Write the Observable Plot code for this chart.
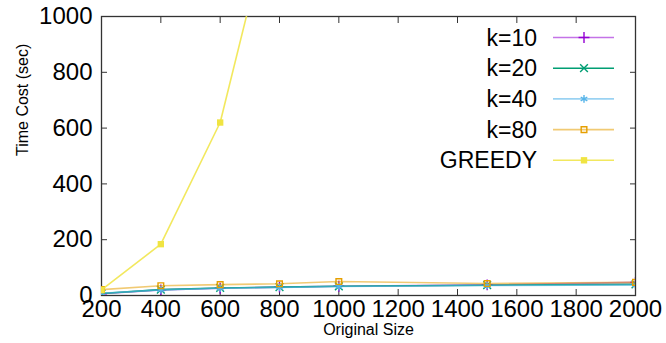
<!DOCTYPE html>
<html>
<head>
<meta charset="utf-8">
<script src="https://cdn.jsdelivr.net/npm/d3@7"></script>
<script src="https://cdn.jsdelivr.net/npm/@observablehq/plot@0.6"></script>
<style>
body { margin: 0; background: #fff; }
#chart { position: relative; width: 666px; height: 343px; }
</style>
</head>
<body>
<div id="chart"></div>
<script>
const sizes = [200, 400, 600, 800, 1000, 1500, 2000];
const k10 = [6, 20, 26, 30, 33, 38, 47];
const k20 = [7, 21, 27, 30, 33, 37, 40];
const k40 = [8, 20, 26, 29, 32, 36, 38];
const k80 = [21, 35, 39, 42, 50, 43, 47];
const greedySizes = [200, 400, 600, 800];
const greedy = [20, 184, 620, 1480];
const xTicks = [200, 400, 600, 800, 1000, 1200, 1400, 1600, 1800, 2000];
const yTicks = [0, 200, 400, 600, 800, 1000];
const seriesNames = ["k=10", "k=20", "k=40", "k=80", "GREEDY"];

const styles = {
  "k=10":   {color: "#9400d3", lineOpacity: 0.55, symbol: "plus",     fill: "none"},
  "k=20":   {color: "#009e73", lineOpacity: 1.0,  symbol: "times",    fill: "none"},
  "k=40":   {color: "#56b4e9", lineOpacity: 0.6,  symbol: "asterisk", fill: "none"},
  "k=80":   {color: "#e69f00", lineOpacity: 0.55, symbol: "square2",  fill: "none"},
  "GREEDY": {color: "#f0e442", lineOpacity: 0.85, symbol: "square",   fill: "fill"}
};

const rows = [];
const add = (name, xs, ys) => xs.forEach((x, i) => rows.push({series: name, x, y: ys[i]}));
add("k=10", sizes, k10);
add("k=20", sizes, k20);
add("k=40", sizes, k40);
add("k=80", sizes, k80);
add("GREEDY", greedySizes, greedy);

const font = "Liberation Sans, Arial, sans-serif";
const fmt = d => String(d);
const marks = [];
for (const name of seriesNames) {
  const s = styles[name];
  const d = rows.filter(r => r.series === name);
  marks.push(Plot.line(d, {x: "x", y: "y", stroke: s.color, strokeOpacity: s.lineOpacity, strokeWidth: 1.6, clip: true}));
  const dotOpts = {x: "x", y: "y", symbol: () => s.symbol, r: 3.6, clip: true};
  if (s.fill === "fill") { dotOpts.fill = s.color; dotOpts.stroke = "none"; }
  else { dotOpts.stroke = s.color; dotOpts.fill = "none"; dotOpts.strokeWidth = 1.4; }
  marks.push(Plot.dot(d, dotOpts));
}

const plot = Plot.plot({
  width: 666,
  height: 343,
  marginLeft: 101,
  marginRight: 31,
  marginTop: 16,
  marginBottom: 48,
  style: {fontFamily: font, background: "#fff", color: "#000"},
  x: {domain: [200, 2000], ticks: xTicks},
  y: {domain: [0, 1000], ticks: yTicks},
  symbol: {type: "identity"},
  marks: [
    Plot.frame({stroke: "#333", strokeWidth: 1.3}),
    Plot.axisX(xTicks, {anchor: "bottom", tickSize: -6, tickFormat: () => "", label: null, stroke: "#333"}),
    Plot.axisX(xTicks, {anchor: "top", tickSize: -6, tickFormat: () => "", label: null, stroke: "#333"}),
    Plot.axisY(yTicks, {anchor: "left", tickSize: -6, tickFormat: () => "", label: null, stroke: "#333"}),
    Plot.axisY(yTicks, {anchor: "right", tickSize: -6, tickFormat: () => "", label: null, stroke: "#333"}),
    Plot.axisX(xTicks, {anchor: "bottom", tickSize: 0, tickPadding: 4, fontSize: 24, tickFormat: fmt, label: null, fill: "#000"}),
    Plot.axisY(yTicks, {anchor: "left", tickSize: 0, tickPadding: 9, fontSize: 24, tickFormat: fmt, label: null, fill: "#000"}),
    Plot.text(["Original Size"], {frameAnchor: "bottom", dy: 39, fontSize: 16, fill: "#000"}),
    Plot.text(["Time Cost (sec)"], {frameAnchor: "left", rotate: -90, dx: -79, fontSize: 16, fill: "#000"}),
    ...marks
  ]
});

document.getElementById("chart").appendChild(plot);

// Legend (top-right inside the frame)
const svg = d3.select(plot);
const lg = svg.append("g").attr("font-family", font);
const symGen = {
  "plus": d3.symbolPlus, "times": d3.symbolTimes, "asterisk": d3.symbolAsterisk,
  "square2": d3.symbolSquare2, "square": d3.symbolSquare
};
seriesNames.forEach((name, i) => {
  const s = styles[name];
  const y = 37.5 + i * 30.7;
  lg.append("text").attr("x", 537).attr("y", y).attr("dy", "0.35em")
    .attr("text-anchor", "end").attr("font-size", 23).attr("fill", "#000").text(name);
  lg.append("line").attr("x1", 553).attr("x2", 614).attr("y1", y).attr("y2", y)
    .attr("stroke", s.color).attr("stroke-opacity", s.lineOpacity).attr("stroke-width", 1.6);
  const p = lg.append("path").attr("transform", `translate(584,${y})`)
    .attr("d", d3.symbol(symGen[s.symbol], Math.PI * 3.6 * 3.6)());
  if (s.fill === "fill") p.attr("fill", s.color);
  else p.attr("fill", "none").attr("stroke", s.color).attr("stroke-width", 1.4);
});
</script>
</body>
</html>
